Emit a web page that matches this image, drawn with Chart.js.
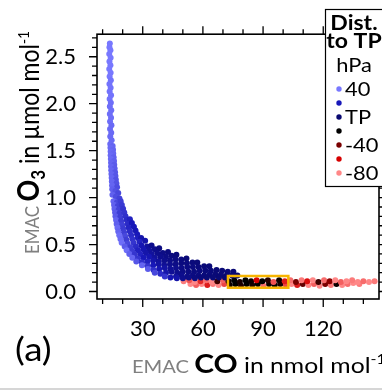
<!DOCTYPE html>
<html>
<head>
<meta charset="utf-8">
<script src="https://cdn.jsdelivr.net/npm/chart.js@4.4.1/dist/chart.umd.min.js"></script>
<style>
  html, body { margin: 0; padding: 0; background: #fff; }
  #wrap { position: relative; width: 382px; height: 390px; }
</style>
</head>
<body>
<div id="wrap"><canvas id="myChart"></canvas></div>
<script>
// points: [CO nmol/mol, O3 µmol/mol, distance to tropopause hPa]
const stripPoints = [
  [13.6,2.64,40],[13.4,2.60,40],[13.9,2.57,40],[13.3,2.53,40],[14.0,2.49,40],[13.4,2.45,40],
  [13.9,2.41,40],[13.3,2.37,40],[14.0,2.33,40],[13.5,2.29,40],[14.1,2.25,39],[13.4,2.21,39],
  [14.0,2.17,39],[13.5,2.13,39],[14.2,2.09,39],[13.5,2.05,39],[14.1,2.01,38],[13.6,1.97,38],
  [14.3,1.93,38],[13.6,1.89,38],[14.2,1.85,38],[13.7,1.81,38],[14.4,1.77,37],[13.7,1.73,37],
  [14.3,1.69,37],[13.8,1.65,37],[14.5,1.61,37]
];
const bendPoints = [
  [13.8,1.57,37],[15.0,1.55,36],[13.9,1.53,37],[15.2,1.51,36],[14.0,1.49,37],[15.3,1.47,36],
  [14.0,1.45,37],[15.5,1.43,35],[14.1,1.41,37],[15.7,1.39,35],[14.2,1.37,36],[15.8,1.35,34],
  [14.2,1.33,36],[16.0,1.31,34],[14.3,1.29,36],[16.2,1.27,33],[14.4,1.25,36],[16.4,1.23,33],
  [14.5,1.21,36],[16.6,1.19,32],[14.6,1.17,36],[16.9,1.15,32],[14.7,1.13,36],[17.2,1.11,31],
  [14.8,1.09,35],[16.4,1.07,32],[17.8,1.05,30],[14.9,1.03,35],[16.6,1.01,31],[18.4,0.99,29]
];
const bandPoints = [
  [15.4,0.96,36],[17.2,0.95,30],[19.0,0.96,28],
  [15.7,0.92,35],[17.6,0.91,29],[19.6,0.92,27],
  [15.9,0.88,35],[18.0,0.87,29],[20.2,0.88,26],
  [16.2,0.84,34],[18.4,0.83,28],[20.8,0.84,26],
  [16.4,0.80,34],[18.8,0.79,28],[21.4,0.80,25],
  [16.7,0.76,36],[19.2,0.75,27],[22.0,0.76,24],[23.6,0.77,22],
  [17.0,0.72,35],[19.7,0.71,28],[22.5,0.72,24],[24.6,0.73,20],
  [17.4,0.68,37],[20.2,0.67,27],[23.0,0.68,23],[25.6,0.69,20],
  [17.8,0.64,36],[20.7,0.63,28],[23.6,0.64,24],[26.4,0.65,19],
  [18.3,0.60,38],[21.2,0.59,30],[24.2,0.60,24],[27.2,0.61,20],
  [18.9,0.56,37],[21.8,0.55,28],[24.8,0.56,25],[27.6,0.57,21],[29.2,0.57,16],
  [19.5,0.52,38],[22.4,0.51,30],[25.4,0.52,26],[28.4,0.53,22],[31.2,0.54,16]
];
const tailPoints = [
  [21.0,0.48,34],[23.8,0.47,28],[26.6,0.48,24],[29.4,0.49,18],[32.2,0.48,12],[34.4,0.49,8],
  [22.0,0.44,38],[24.8,0.43,27],[27.6,0.44,22],[30.4,0.45,18],[33.2,0.44,12],[36.0,0.45,8],[38.2,0.46,5],
  [23.3,0.40,35],[26.0,0.39,26],[28.8,0.40,22],[31.6,0.41,16],[34.4,0.40,12],[37.2,0.41,8],[40.0,0.41,6],[42.6,0.42,4],
  [24.8,0.36,36],[27.6,0.35,26],[30.4,0.36,20],[33.2,0.37,18],[36.0,0.36,12],[38.8,0.37,8],[41.6,0.37,6],[44.4,0.38,4],[46.8,0.39,3],
  [26.8,0.32,33],[29.6,0.31,25],[32.4,0.32,22],[35.2,0.33,16],[38.0,0.32,12],[40.8,0.33,8],[43.6,0.33,6],[46.4,0.34,5],[49.2,0.34,4],[51.8,0.35,2],
  [29.6,0.28,36],[32.4,0.27,26],[35.2,0.28,20],[38.0,0.29,14],[40.8,0.28,10],[43.6,0.29,8],[46.4,0.29,6],[49.2,0.30,4],[52.0,0.30,4],[54.8,0.31,3],[57.2,0.31,2],
  [32.6,0.24,34],[35.4,0.23,25],[38.2,0.24,18],[41.0,0.25,14],[43.8,0.24,10],[46.6,0.25,8],[49.4,0.25,6],[52.2,0.26,5],[55.0,0.26,4],[57.8,0.26,3],[60.6,0.27,2],[63.2,0.27,2],
  [36.0,0.20,30],[38.8,0.19,24],[41.6,0.20,16],[44.4,0.21,10],[47.2,0.20,8],[50.0,0.21,6],[52.8,0.21,5],[55.6,0.21,4],[58.4,0.22,4],[61.2,0.22,3],[64.0,0.22,3],[66.8,0.23,2],[69.6,0.22,2],[72.4,0.21,2],[75.2,0.21,1],
  [41.0,0.16,26],[43.8,0.15,18],[46.6,0.16,12],[49.4,0.17,8],[52.2,0.16,6],[55.0,0.17,5],[57.8,0.17,4],[60.6,0.17,3],[63.4,0.18,3],[66.2,0.18,2],[69.0,0.18,2],[71.8,0.17,1],[74.6,0.17,1],[77.2,0.17,0],
  [47.0,0.14,16],[50.0,0.14,8],[53.0,0.15,6],[56.0,0.14,4],[59.0,0.15,3],[62.0,0.15,2],[65.0,0.15,2],[68.0,0.15,1],[71.0,0.15,0]
];
const floorLowerRow = [
  [53.8,0.08,-80],[56.6,0.07,-74],[59.4,0.08,-80],[62.2,0.07,-64],[65.0,0.08,-78],[67.8,0.07,-80],
  [70.6,0.08,-70],[73.4,0.07,-22],[76.2,0.08,-20],[79.0,0.06,-26],[81.8,0.08,-20],[84.6,0.07,-24],
  [87.4,0.08,-20],[90.2,0.06,-76],[93.0,0.08,-22],[95.8,0.07,-20],[98.6,0.08,-24],[101.4,0.07,-70],
  [104.2,0.08,-80],[107.0,0.07,-64],[109.8,0.08,-36],[112.6,0.07,-80],[115.4,0.08,-74],[118.2,0.06,-80],
  [121.0,0.08,-40],[123.8,0.07,-78],[126.6,0.08,-22],[129.4,0.07,-80],[132.2,0.08,-76],[135.0,0.09,-80],
  [138.0,0.08,-78]
];
const floorUpperRow = [
  [50.4,0.11,-78],[53.2,0.12,-72],[56.0,0.10,-80],[58.8,0.11,-66],[61.6,0.12,-76],[64.4,0.10,-80],
  [67.2,0.11,-30],[70.0,0.12,-74],[72.8,0.11,-22],[75.6,0.12,-20],[78.4,0.10,-24],[81.2,0.12,-20],
  [84.0,0.11,-22],[86.8,0.12,-60],[89.6,0.11,-20],[92.4,0.12,-26],[95.2,0.10,-72],[98.0,0.12,-22],
  [100.8,0.11,-64],[103.6,0.12,-76],[106.4,0.10,-40],[109.2,0.12,-78],[112.0,0.11,-62],[114.8,0.12,-80],
  [117.6,0.10,-30],[120.4,0.12,-76],[123.2,0.11,-44],[126.0,0.12,-80],[128.8,0.10,-74],[131.6,0.11,-80],
  [134.4,0.12,-78],[137.2,0.10,-80],[140.0,0.11,-76],[142.8,0.10,-80],[145.6,0.11,-78]
];

// colour legend (distance to TP in hPa)
const legendDist = [40, 20, 0, -20, -40, -60, -80];
const legendLabels = ['40', '', 'TP', '', '-40', '', '-80'];
const legendColors = [[120,120,255],[24,24,185],[8,8,112],[0,0,0],[122,0,0],[214,0,0],[255,135,135]];

// highlighted box (CO range, O3 range)
const boxCo = [72.5, 102.6];
const boxO3 = [0.04, 0.165];

const FONT = 'Lato';
const STRETCH = 1.15;

function rgb(c) { return 'rgb(' + c.map(Math.round).join(',') + ')'; }
function colorForDist(d) {
  if (d >= legendDist[0]) return rgb(legendColors[0]);
  for (let i = 0; i < legendDist.length - 1; i++) {
    const a = legendDist[i], b = legendDist[i + 1];
    if (d <= a && d >= b) {
      const t = (a - d) / (a - b);
      const c1 = legendColors[i], c2 = legendColors[i + 1];
      return rgb(c1.map((v, k) => v + (c2[k] - v) * t));
    }
  }
  return rgb(legendColors[legendColors.length - 1]);
}
const toPoints = arr => arr.map(p => ({ x: p[0], y: p[1], dist: p[2] }));

function makeSet(arr) {
  return {
    data: toPoints(arr),
    backgroundColor: c => (c.raw ? colorForDist(c.raw.dist) : '#000'),
    borderWidth: 0,
    pointRadius: 3,
    pointHoverRadius: 3
  };
}

// draws several text pieces one after another
function drawRuns(ctx, runs) {
  let cx = 0;
  ctx.textAlign = 'left';
  runs.forEach(r => {
    ctx.font = r.font;
    ctx.fillStyle = r.color || '#000';
    ctx.fillText(r.text, cx, r.dy || 0);
    cx += ctx.measureText(r.text).width;
  });
}

const frame = {
  id: 'frame',
  afterDraw(chart) {
    const ctx = chart.ctx, ca = chart.chartArea;
    const xs = chart.scales.x, ys = chart.scales.y;
    ctx.save();
    ctx.strokeStyle = '#000';
    ctx.lineWidth = 1.6;
    ctx.strokeRect(ca.left, ca.top, ca.right - ca.left, ca.bottom - ca.top);

    // tick marks on all four sides
    ctx.lineWidth = 1.3;
    ctx.beginPath();
    xs.ticks.forEach(t => {
      const px = xs.getPixelForValue(t.value);
      const len = t.value % 30 === 0 ? 8 : 5;
      ctx.moveTo(px, ca.bottom); ctx.lineTo(px, ca.bottom + len);
      ctx.moveTo(px, ca.top); ctx.lineTo(px, ca.top - len);
    });
    ys.ticks.forEach(t => {
      const py = ys.getPixelForValue(t.value);
      const q = t.value / 0.5;
      const len = Math.abs(q - Math.round(q)) < 1e-6 ? 8 : 5;
      ctx.moveTo(ca.left, py); ctx.lineTo(ca.left - len, py);
      ctx.moveTo(ca.right, py); ctx.lineTo(ca.right + len, py);
    });
    ctx.stroke();

    // highlighted region
    const bx0 = xs.getPixelForValue(boxCo[0]), bx1 = xs.getPixelForValue(boxCo[1]);
    const by0 = ys.getPixelForValue(boxO3[1]), by1 = ys.getPixelForValue(boxO3[0]);
    ctx.strokeStyle = '#f7b500';
    ctx.lineWidth = 2.5;
    ctx.strokeRect(bx0, by0, bx1 - bx0, by1 - by0);

    // legend box
    ctx.fillStyle = '#fff';
    ctx.fillRect(325, 9, 62, 177);
    ctx.strokeStyle = '#000';
    ctx.lineWidth = 1.2;
    ctx.strokeRect(325.5, 9.5, 62, 177);

    ctx.textBaseline = 'alphabetic';
    const centered = (text, font, y) => {
      ctx.save();
      ctx.translate(354, y);
      ctx.scale(STRETCH, 1);
      ctx.textAlign = 'center';
      ctx.font = font;
      ctx.fillStyle = '#000';
      ctx.fillText(text, 0, 0);
      ctx.restore();
    };
    centered('Dist.', 'bold 20px ' + FONT, 30);
    centered('to TP', 'bold 20px ' + FONT, 48);
    centered('hPa', '19px ' + FONT, 72);

    const dotY = [89, 103, 117, 131, 145, 159, 173];
    legendColors.forEach((c, i) => {
      ctx.fillStyle = rgb(c);
      ctx.beginPath();
      ctx.arc(339, dotY[i], 2.7, 0, Math.PI * 2);
      ctx.fill();
      if (legendLabels[i]) {
        ctx.save();
        ctx.translate(345, dotY[i] + 7);
        ctx.scale(STRETCH, 1);
        ctx.textAlign = 'left';
        ctx.font = '19px ' + FONT;
        ctx.fillStyle = '#000';
        ctx.fillText(legendLabels[i], 0, 0);
        ctx.restore();
      }
    });

    // x axis title
    ctx.save();
    ctx.translate(132, 373);
    ctx.scale(STRETCH, 1);
    drawRuns(ctx, [
      { text: 'EMAC ', font: '17.5px ' + FONT, color: '#808080' },
      { text: 'CO', font: 'bold 26px ' + FONT },
      { text: ' in nmol mol', font: '21.5px ' + FONT },
      { text: '-1', font: '14px ' + FONT, dy: -9 }
    ]);
    ctx.restore();

    // y axis title
    ctx.save();
    ctx.translate(39, 254);
    ctx.rotate(-Math.PI / 2);
    ctx.scale(1, STRETCH);
    drawRuns(ctx, [
      { text: 'EMAC ', font: '17px ' + FONT, color: '#808080' },
      { text: 'O', font: 'bold 27px ' + FONT },
      { text: '3', font: 'bold 17px ' + FONT, dy: 5 },
      { text: ' in µmol mol', font: '23px ' + FONT },
      { text: '-1', font: '14px ' + FONT, dy: -9 }
    ]);
    ctx.restore();

    // panel letter
    ctx.save();
    ctx.translate(15, 361);
    ctx.scale(STRETCH, 1);
    ctx.textAlign = 'left';
    ctx.font = '32px ' + FONT;
    ctx.fillStyle = '#000';
    ctx.fillText('(a)', 0, 0);
    ctx.restore();

    // grey rule at the bottom
    ctx.fillStyle = '#d6d6d6';
    ctx.fillRect(0, 388, chart.width, 2);
    ctx.restore();
  }
};

const ctx = document.getElementById('myChart');
new Chart(ctx, {
  type: 'scatter',
  data: {
    // index 0 is drawn on top
    datasets: [
      makeSet(tailPoints),
      makeSet(bandPoints),
      makeSet(bendPoints),
      makeSet(stripPoints),
      makeSet(floorLowerRow.concat(floorUpperRow))
    ]
  },
  options: {
    responsive: true,
    maintainAspectRatio: false,
    animation: false,
    layout: { padding: { top: 16, right: 3, left: 0, bottom: 0 } },
    plugins: { legend: { display: false }, tooltip: { enabled: false } },
    scales: {
      x: {
        type: 'linear',
        position: 'bottom',
        min: 7.2,
        max: 147.8,
        grid: { display: false, drawTicks: false },
        border: { display: false },
        ticks: {
          stepSize: 10,
          autoSkip: false,
          includeBounds: false,
          maxRotation: 0,
          minRotation: 0,
          padding: 17,
          color: '#000',
          font: { family: FONT, size: 22 },
          callback: v => (v % 30 === 0 ? String(v) : '')
        },
        afterFit: s => { s.height = 91; }
      },
      y: {
        type: 'linear',
        min: -0.08,
        max: 2.74,
        grid: { display: false, drawTicks: false },
        border: { display: false },
        ticks: {
          stepSize: 0.1,
          autoSkip: false,
          includeBounds: false,
          padding: 21,
          color: '#000',
          font: { family: FONT, size: 22 },
          callback: v => {
            const q = v / 0.5;
            return Math.abs(q - Math.round(q)) < 1e-6 ? v.toFixed(1) : '';
          }
        },
        afterFit: s => { s.width = 97; }
      }
    }
  },
  plugins: [frame]
});
</script>
</body>
</html>
